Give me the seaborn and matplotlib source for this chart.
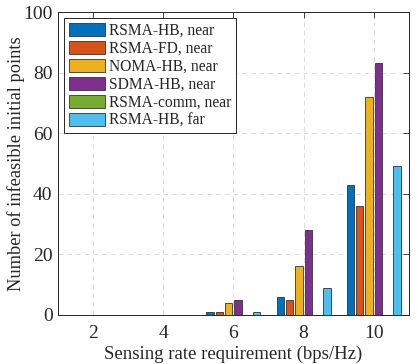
import matplotlib
matplotlib.use("Agg")
import matplotlib.pyplot as plt
import seaborn as sns
import pandas as pd

rates = [2, 4, 6, 8, 10]
series_names = ["RSMA-HB, near", "RSMA-FD, near", "NOMA-HB, near",
                "SDMA-HB, near", "RSMA-comm, near", "RSMA-HB, far"]
rsma_hb_near = [0, 0, 1, 6, 43]
rsma_fd_near = [0, 0, 1, 5, 36]
noma_hb_near = [0, 0, 4, 16, 72]
sdma_hb_near = [0, 0, 5, 28, 83]
rsma_comm_near = [0, 0, 0, 0, 0]
rsma_hb_far = [0, 0, 1, 9, 49]
colors = ["#0072BD", "#D95319", "#EDB120", "#7E2F8E", "#77AC30", "#4DBEEE"]

all_vals = [rsma_hb_near, rsma_fd_near, noma_hb_near, sdma_hb_near, rsma_comm_near, rsma_hb_far]
rows = []
for name, vals in zip(series_names, all_vals):
    for r, v in zip(rates, vals):
        rows.append({"rate": r, "count": v, "series": name})
df = pd.DataFrame(rows)

sns.set_theme(style="white")
plt.rcParams['font.family'] = ['Liberation Serif', 'DejaVu Serif']
plt.rcParams['mathtext.fontset'] = 'stix'

fig = plt.figure(figsize=(4.18, 3.64), dpi=100)
ax = fig.add_axes([0.139, 0.135, 0.839, 0.832])

sns.barplot(data=df, x="rate", y="count", hue="series", hue_order=series_names,
            palette=colors, native_scale=True, width=0.8, gap=0.22,
            edgecolor="#333333", linewidth=0.6, saturation=1, ax=ax, errorbar=None)

ax.set_xlim(1, 11)
ax.set_ylim(0, 100)
ax.set_xticks(rates)
ax.set_xticklabels([str(r) for r in rates])
ax.set_yticks([0, 20, 40, 60, 80, 100])
ax.tick_params(axis='both', direction='in', length=4, width=0.6, labelsize=14,
               top=True, right=True, colors='#262626')
ax.tick_params(axis='x', pad=7)
ax.tick_params(axis='y', pad=4)
for lab in ax.get_xticklabels() + ax.get_yticklabels():
    lab.set_color('#262626')
ax.grid(True, linestyle=(0, (5, 4)), color='#dcdcdc', linewidth=0.7)
ax.set_axisbelow(True)
for s in ax.spines.values():
    s.set_color('#262626')
    s.set_linewidth(0.7)

ax.set_xlabel("Sensing rate requirement (bps/Hz)", fontsize=13.5, color='#262626', labelpad=3)
ax.set_ylabel("Number of infeasible initial points", fontsize=13.2, color='#262626', labelpad=-1)

leg = ax.legend(loc='upper left', fontsize=11.2, frameon=True, fancybox=False,
                edgecolor='#262626', framealpha=1, handlelength=2.3, handleheight=0.95,
                handletextpad=0.25, labelspacing=0.12, borderpad=0.3,
                borderaxespad=0.4)
leg.get_frame().set_linewidth(0.7)

fig.savefig("out.png", dpi=100)
